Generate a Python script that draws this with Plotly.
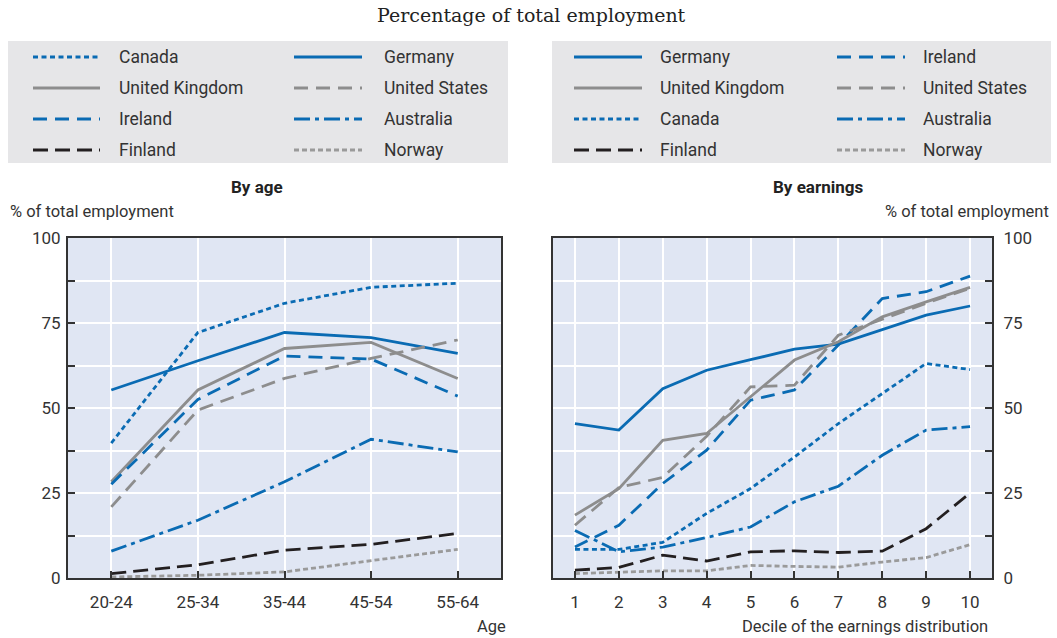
import plotly.graph_objects as go

W, H = 1057, 638

age_labels = ["20-24", "25-34", "35-44", "45-54", "55-64"]
deciles = [1, 2, 3, 4, 5, 6, 7, 8, 9, 10]

# by age
canada_age = [39.7, 72.2, 80.8, 85.5, 86.7]
germany_age = [55.3, 63.9, 72.2, 70.7, 66.1]
uk_age = [28.3, 55.3, 67.5, 69.3, 58.7]
ireland_age = [27.6, 52.5, 65.3, 64.4, 53.5]
us_age = [20.9, 49.4, 58.7, 64.6, 70.0]
australia_age = [7.9, 17.0, 28.3, 40.8, 37.1]
finland_age = [1.3, 3.9, 8.2, 9.9, 13.1]
norway_age = [0.3, 0.8, 1.8, 5.2, 8.4]

# by earnings decile
germany_earn = [45.4, 43.5, 55.7, 61.1, 64.2, 67.3, 68.8, 73.1, 77.3, 80.0]
uk_earn = [18.5, 26.3, 40.5, 42.5, 53.3, 64.1, 69.5, 76.8, 81.2, 85.5]
us_earn = [15.5, 26.6, 29.6, 41.7, 56.2, 56.7, 71.4, 76.1, 80.8, 85.2]
ireland_earn = [9.1, 15.5, 27.8, 37.6, 52.3, 55.3, 68.5, 82.2, 84.2, 88.8]
canada_earn = [8.4, 8.4, 10.5, 19.0, 26.3, 35.6, 45.4, 54.3, 63.1, 61.3]
australia_earn = [14.0, 7.7, 9.1, 11.9, 15.0, 22.4, 27.0, 36.1, 43.5, 44.5]
finland_earn = [2.3, 3.1, 6.7, 5.0, 7.7, 8.0, 7.5, 7.9, 14.5, 25.0]
norway_earn = [1.3, 1.8, 2.1, 2.1, 3.7, 3.4, 3.2, 4.7, 6.0, 9.8]

y_ticks = [0, 12.5, 25, 37.5, 50, 62.5, 75, 87.5, 100]
y_ticktext = ["0", "", "25", "", "50", "", "75", "", "100"]

BLUE = "#0a6bb3"
GREY = "#8d8d8d"
BLACK = "#231f20"
LGREY = "#9a9a9a"

style = {
    "Canada": (BLUE, "5px,3.5px"),
    "Germany": (BLUE, "solid"),
    "United Kingdom": (GREY, "solid"),
    "United States": (GREY, "14px,8px"),
    "Ireland": (BLUE, "14px,8px"),
    "Australia": (BLUE, "16px,5px,4px,5px"),
    "Finland": (BLACK, "15px,7px"),
    "Norway": (LGREY, "5px,3px"),
}

age_series = {
    "Canada": canada_age, "Germany": germany_age, "United Kingdom": uk_age,
    "United States": us_age, "Ireland": ireland_age, "Australia": australia_age,
    "Finland": finland_age, "Norway": norway_age,
}
earn_series = {
    "Germany": germany_earn, "Ireland": ireland_earn, "United Kingdom": uk_earn,
    "United States": us_earn, "Canada": canada_earn, "Australia": australia_earn,
    "Finland": finland_earn, "Norway": norway_earn,
}

left_legend = [("Canada", "Germany"), ("United Kingdom", "United States"),
               ("Ireland", "Australia"), ("Finland", "Norway")]
right_legend = [("Germany", "Ireland"), ("United Kingdom", "United States"),
                ("Canada", "Australia"), ("Finland", "Norway")]


def px(x):
    return x / W


def py(y):
    return 1 - y / H


SANS = "Roboto, Liberation Sans, sans-serif"

fig = go.Figure()

for name, vals in age_series.items():
    c, d = style[name]
    fig.add_trace(go.Scatter(x=age_labels, y=vals, name=name, mode="lines",
                             line=dict(color=c, dash=d, width=2.8),
                             xaxis="x", yaxis="y", showlegend=False))

for name, vals in earn_series.items():
    c, d = style[name]
    fig.add_trace(go.Scatter(x=deciles, y=vals, name=name, mode="lines",
                             line=dict(color=c, dash=d, width=2.8),
                             xaxis="x2", yaxis="y2", showlegend=False))

shapes = []
annotations = []

# legend boxes, drawn by hand to get the 2x4 grid
for (bx0, bx1, cols), rows in [((8, 508, [(33, 100, 117), (294, 362, 382)]), left_legend),
                               ((552, 1051, [(574, 642, 658), (837, 905, 921)]), right_legend)]:
    shapes.append(dict(type="rect", xref="paper", yref="paper",
                       x0=px(bx0), x1=px(bx1), y0=py(163), y1=py(41),
                       fillcolor="#e6e6e8", line=dict(width=0), layer="below"))
    for i, row in enumerate(rows):
        yy = 57 + i * 31
        for (sx0, sx1, tx), name in zip(cols, row):
            c, d = style[name]
            shapes.append(dict(type="line", xref="paper", yref="paper",
                               x0=px(sx0), x1=px(sx1), y0=py(yy), y1=py(yy),
                               line=dict(color=c, dash=d, width=3)))
            annotations.append(dict(text=name, xref="paper", yref="paper",
                                    x=px(tx), y=py(yy), xanchor="left", yanchor="middle",
                                    showarrow=False, font=dict(family=SANS, size=17.5, color="#333")))

annotations += [
    dict(text="Percentage of total employment", xref="paper", yref="paper", x=px(531), y=py(15),
         xanchor="center", yanchor="middle", showarrow=False,
         font=dict(family="DejaVu Serif, Liberation Serif, serif", size=19, color="#222")),
    dict(text="<b>By age</b>", xref="paper", yref="paper", x=px(257), y=py(187),
         xanchor="center", yanchor="middle", showarrow=False,
         font=dict(family=SANS, size=17, color="#222")),
    dict(text="<b>By earnings</b>", xref="paper", yref="paper", x=px(818), y=py(187),
         xanchor="center", yanchor="middle", showarrow=False,
         font=dict(family=SANS, size=17, color="#222")),
    dict(text="% of total employment", xref="paper", yref="paper", x=px(8), y=py(211),
         xanchor="left", yanchor="middle", showarrow=False,
         font=dict(family=SANS, size=16.5, color="#333")),
    dict(text="% of total employment", xref="paper", yref="paper", x=px(1051), y=py(211),
         xanchor="right", yanchor="middle", showarrow=False,
         font=dict(family=SANS, size=16.5, color="#333")),
    dict(text="Age", xref="paper", yref="paper", x=px(508), y=py(626),
         xanchor="right", yanchor="middle", showarrow=False,
         font=dict(family=SANS, size=16.5, color="#333")),
    dict(text="Decile of the earnings distribution", xref="paper", yref="paper", x=px(990), y=py(626),
         xanchor="right", yanchor="middle", showarrow=False,
         font=dict(family=SANS, size=16.5, color="#333")),
]

ydom = [py(578), py(238)]
axis_common = dict(showgrid=True, gridcolor="white", gridwidth=2, showline=True,
                   linecolor="#333", linewidth=2, mirror=True, ticks="inside",
                   ticklen=7, tickwidth=1.5, tickcolor="#333", zeroline=False,
                   automargin=False,
                   tickfont=dict(family=SANS, size=17, color="#333"))

fig.update_layout(
    width=W, height=H,
    autosize=False,
    margin=dict(l=0, r=0, t=0, b=0, pad=0, autoexpand=False),
    paper_bgcolor="white",
    plot_bgcolor="#e0e6f3",
    showlegend=False,
    shapes=shapes,
    annotations=annotations,
    xaxis=dict(domain=[px(68), px(501)], type="category", range=[-0.5, 4.5],
               anchor="y", ticklabelstandoff=8, **axis_common),
    yaxis=dict(domain=ydom, range=[0, 100], tickvals=y_ticks, ticktext=y_ticktext,
               anchor="x", ticklabelstandoff=2, **axis_common),
    xaxis2=dict(domain=[px(553), px(992)], range=[0.5, 10.5], tickvals=deciles,
                anchor="y2", ticklabelstandoff=8, **axis_common),
    yaxis2=dict(domain=ydom, range=[0, 100], tickvals=y_ticks, ticktext=y_ticktext,
                side="right", anchor="x2", ticklabelstandoff=6, **axis_common),
)

# drop the default body margin so the 1057x638 figure fills the window
fig.write_html("out.html", config={"displayModeBar": False},
               post_script="document.body.style.margin='0';")
